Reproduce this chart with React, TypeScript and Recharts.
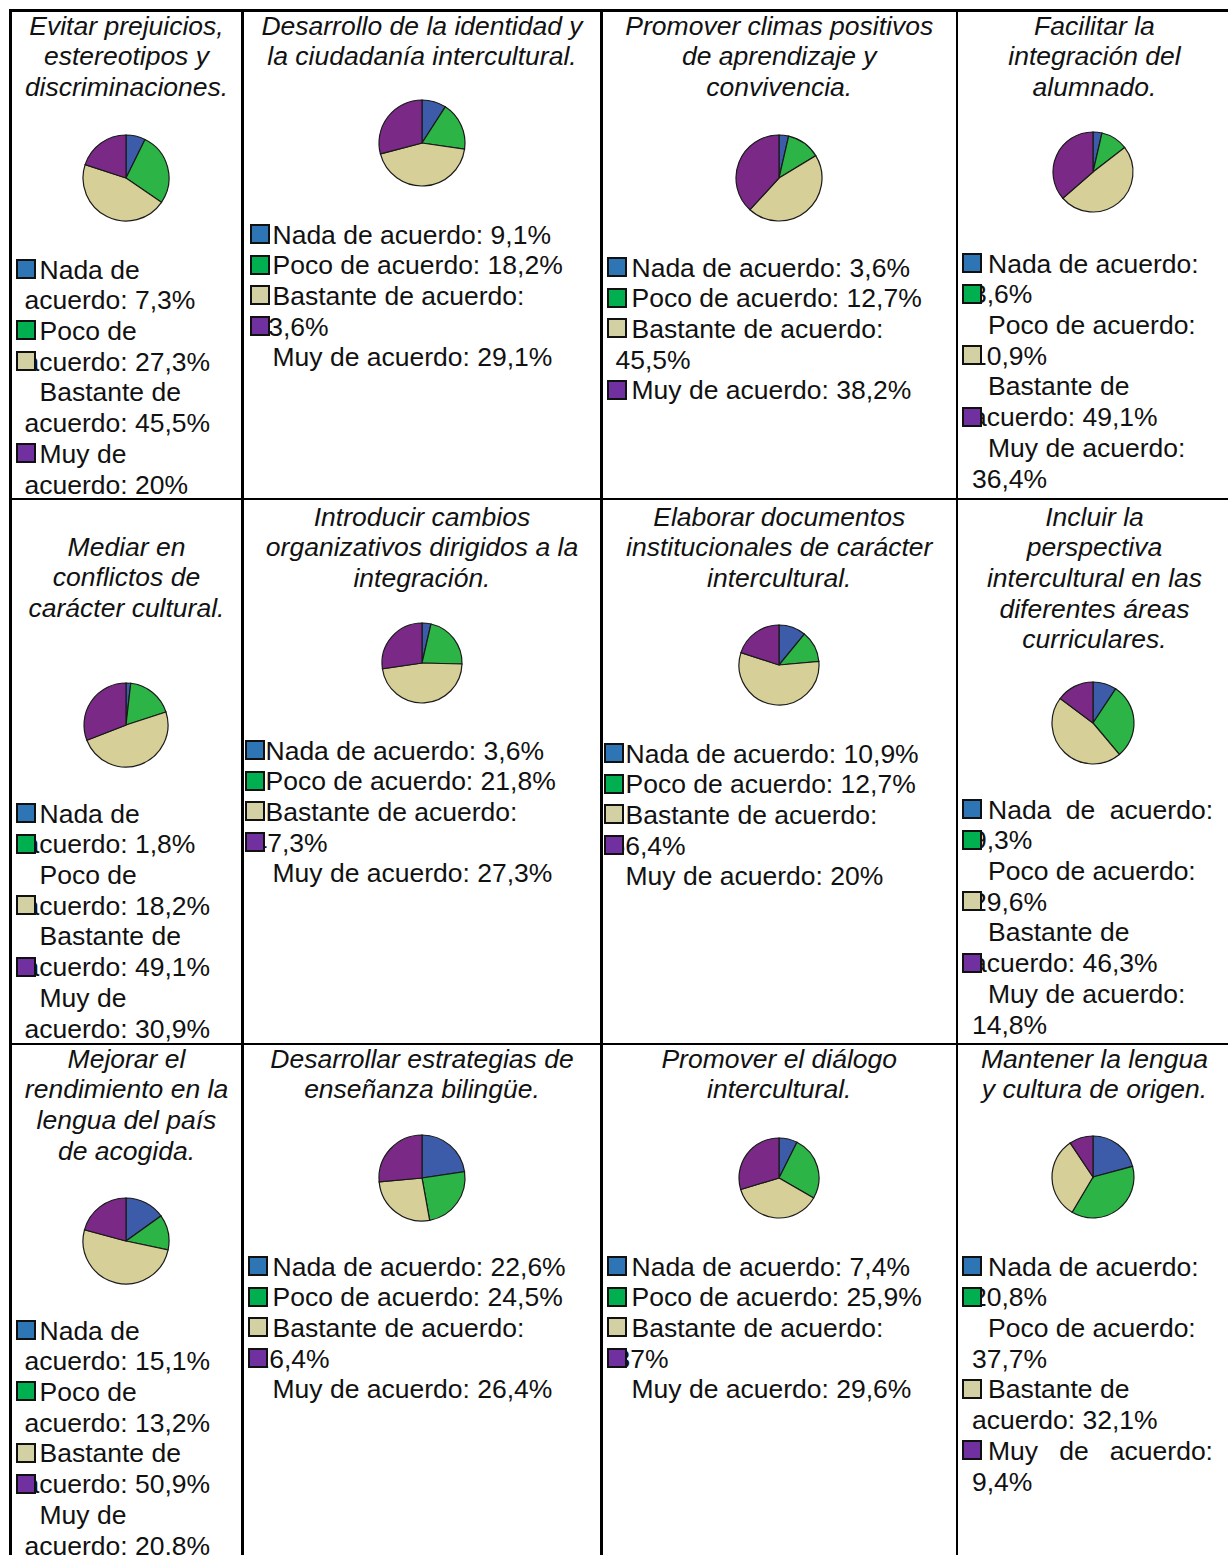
import React from 'react';
import { PieChart, Pie, Cell } from 'recharts';

const LABELS = ['Nada de acuerdo', 'Poco de acuerdo', 'Bastante de acuerdo', 'Muy de acuerdo'];

const TITLES: string[][] = [
  ['Evitar prejuicios,', 'estereotipos y', 'discriminaciones.'],
  ['Desarrollo de la identidad y', 'la ciudadanía intercultural.'],
  ['Promover climas positivos', 'de aprendizaje y', 'convivencia.'],
  ['Facilitar la', 'integración del', 'alumnado.'],
  ['Mediar en', 'conflictos de', 'carácter cultural.'],
  ['Introducir cambios', 'organizativos dirigidos a la', 'integración.'],
  ['Elaborar documentos', 'institucionales de carácter', 'intercultural.'],
  ['Incluir la', 'perspectiva', 'intercultural en las', 'diferentes áreas', 'curriculares.'],
  ['Mejorar el', 'rendimiento en la', 'lengua del país', 'de acogida.'],
  ['Desarrollar estrategias de', 'enseñanza bilingüe.'],
  ['Promover el diálogo', 'intercultural.'],
  ['Mantener la lengua', 'y cultura de origen.'],
];

// percentages per item, one array per answer
const NADA = [7.3, 9.1, 3.6, 3.6, 1.8, 3.6, 10.9, 9.3, 15.1, 22.6, 7.4, 20.8];
const POCO = [27.3, 18.2, 12.7, 10.9, 18.2, 21.8, 12.7, 29.6, 13.2, 24.5, 25.9, 37.7];
const BASTANTE = [45.5, 43.6, 45.5, 49.1, 49.1, 47.3, 56.4, 46.3, 50.9, 26.4, 37, 32.1];
const MUY = [20, 29.1, 38.2, 36.4, 30.9, 27.3, 20, 14.8, 20.8, 26.4, 29.6, 9.4];

const PIE_COLORS = ['#3c5caa', '#2db446', '#d6cf98', '#7a2a86'];
const KEY_COLORS = ['#2e75b6', '#00b050', '#d3d1a3', '#7030a0'];

const FONT = '"Liberation Sans", Arial, sans-serif';
const FS = 26.5;
const LH = 30.7;

const COLS = [10.5, 242.5, 601.5, 957, 1232];
const ROW_LINES = [10.5, 499, 1044];

type Layout = {
  col: number;
  titleY: number;
  pie: [number, number, number];
  legendY: number;
  first: number[];
  cont: number;
  sq: number;
  sqLines: number[];
  splits: number[];
  justify?: number[];
};

const LAYOUT: Layout[] = [
  { col: 0, titleY: 26, pie: [126, 178, 43], legendY: 270, first: [29, 29, 29, 29], cont: 14, sq: 5, sqLines: [0, 2, 3, 6], splits: [2, 2, 2, 2] },
  { col: 1, titleY: 26, pie: [422, 143, 43], legendY: 235, first: [30, 30, 30, 30], cont: 11, sq: 7, sqLines: [0, 1, 2, 3], splits: [4, 4, 3, 4] },
  { col: 2, titleY: 26, pie: [779, 178, 43], legendY: 268, first: [30, 30, 30, 30], cont: 14, sq: 5, sqLines: [0, 1, 2, 4], splits: [4, 4, 3, 4] },
  { col: 3, titleY: 26, pie: [1093, 172, 40], legendY: 264, first: [31, 31, 31, 31], cont: 15, sq: 5, sqLines: [0, 1, 3, 5], splits: [3, 3, 2, 3] },
  { col: 0, titleY: 547, pie: [126, 725, 42], legendY: 814, first: [29, 29, 29, 29], cont: 14, sq: 5, sqLines: [0, 1, 3, 5], splits: [2, 2, 2, 2] },
  { col: 1, titleY: 517, pie: [422, 663, 40], legendY: 751, first: [23, 23, 23, 30], cont: 10, sq: 2, sqLines: [0, 1, 2, 3], splits: [4, 4, 3, 4] },
  { col: 2, titleY: 517, pie: [779, 665, 40], legendY: 754, first: [24, 24, 24, 24], cont: 9, sq: 2, sqLines: [0, 1, 2, 3], splits: [4, 4, 3, 4] },
  { col: 3, titleY: 517, pie: [1093, 723, 41], legendY: 810, first: [31, 31, 31, 31], cont: 15, sq: 5, sqLines: [0, 1, 3, 5], splits: [3, 3, 2, 3], justify: [0] },
  { col: 0, titleY: 1059, pie: [126, 1241, 43], legendY: 1331, first: [29, 29, 29, 29], cont: 14, sq: 5, sqLines: [0, 2, 4, 5], splits: [2, 2, 2, 2] },
  { col: 1, titleY: 1059, pie: [422, 1178, 43], legendY: 1267, first: [30, 30, 30, 30], cont: 12, sq: 5, sqLines: [0, 1, 2, 3], splits: [4, 4, 3, 4] },
  { col: 2, titleY: 1059, pie: [779, 1178, 40], legendY: 1267, first: [30, 30, 30, 30], cont: 14, sq: 5, sqLines: [0, 1, 2, 3], splits: [4, 4, 3, 4] },
  { col: 3, titleY: 1059, pie: [1093, 1177, 41], legendY: 1267, first: [31, 31, 31, 31], cont: 15, sq: 5, sqLines: [0, 1, 4, 6], splits: [3, 3, 2, 3], justify: [6] },
];

const fmt = (v: number) => String(v).replace('.', ',') + '%';

const textStyle: React.CSSProperties = {
  position: 'absolute',
  fontFamily: FONT,
  fontSize: FS,
  lineHeight: `${LH}px`,
  height: LH,
  whiteSpace: 'nowrap',
  color: '#111',
};

function ChartCell({ idx }: { idx: number }) {
  const lay = LAYOUT[idx];
  const x0 = COLS[lay.col];
  const x1 = COLS[lay.col + 1];
  const values = [NADA[idx], POCO[idx], BASTANTE[idx], MUY[idx]];
  const data = LABELS.map((name, i) => ({ name, value: values[i] }));
  const [cx, cy, r] = lay.pie;
  const box = 2 * r + 6;

  // legend lines: each answer wraps after `splits` words
  const lines: { text: string; x: number }[] = [];
  LABELS.forEach((label, i) => {
    const words = `${label}: ${fmt(values[i])}`.split(' ');
    const n = lay.splits[i];
    lines.push({ text: words.slice(0, n).join(' '), x: lay.first[i] });
    if (n < words.length) lines.push({ text: words.slice(n).join(' '), x: lay.cont });
  });

  return (
    <>
      {TITLES[idx].map((t, i) => (
        <div
          key={'t' + i}
          style={{
            ...textStyle,
            left: x0,
            width: x1 - x0,
            textAlign: 'center',
            fontStyle: 'italic',
            top: lay.titleY + i * LH - LH / 2,
          }}
        >
          {t}
        </div>
      ))}
      <div style={{ position: 'absolute', left: cx - box / 2, top: cy - box / 2 }}>
        <PieChart width={box} height={box}>
          <Pie
            data={data}
            dataKey="value"
            nameKey="name"
            cx="50%"
            cy="50%"
            outerRadius={r}
            startAngle={90}
            endAngle={-270}
            stroke="#1a1a1a"
            strokeWidth={1.2}
            isAnimationActive={false}
          >
            {data.map((d, i) => (
              <Cell key={d.name} fill={PIE_COLORS[i]} />
            ))}
          </Pie>
        </PieChart>
      </div>
      {lines.map((ln, i) => {
        const just = lay.justify && lay.justify.includes(i);
        return (
          <div
            key={'l' + i}
            style={{
              ...textStyle,
              left: x0 + ln.x,
              top: lay.legendY + i * LH - LH / 2,
              ...(just ? { width: 1213 - (x0 + ln.x), textAlign: 'justify', textAlignLast: 'justify' } : {}),
            }}
          >
            {ln.text}
          </div>
        );
      })}
      {lay.sqLines.map((li, i) => (
        <div
          key={'s' + i}
          style={{
            position: 'absolute',
            left: x0 + lay.sq,
            top: lay.legendY + li * LH - 11,
            width: 16,
            height: 16,
            background: KEY_COLORS[i],
            border: '2px solid #111',
          }}
        />
      ))}
    </>
  );
}

export default function App() {
  const lw = 2.5;
  return (
    <div
      style={{
        position: 'absolute',
        left: 0,
        top: 0,
        width: 1228,
        height: 1555,
        overflow: 'hidden',
        background: '#fff',
      }}
    >
      {ROW_LINES.map((y, i) => (
        <div key={'h' + i} style={{ position: 'absolute', left: COLS[0] - lw / 2, top: y - lw / 2, width: 1240, height: lw, background: '#000' }} />
      ))}
      {COLS.slice(0, 4).map((x, i) => (
        <div key={'v' + i} style={{ position: 'absolute', left: x - lw / 2, top: ROW_LINES[0] - lw / 2, width: lw, height: 1560, background: '#000' }} />
      ))}
      {LAYOUT.map((_, i) => (
        <ChartCell key={i} idx={i} />
      ))}
    </div>
  );
}
